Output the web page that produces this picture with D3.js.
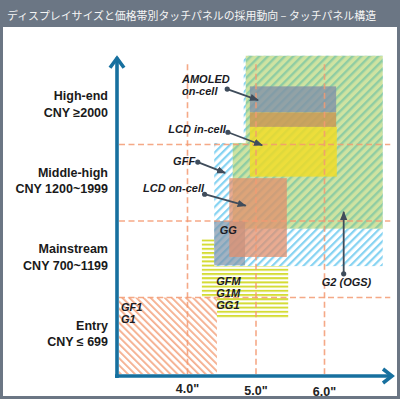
<!DOCTYPE html>
<html>
<head>
<meta charset="utf-8">
<script src="https://cdn.jsdelivr.net/npm/d3@7"></script>
<style>
  html, body { margin: 0; padding: 0; background: #fff; }
  svg { display: block; }
</style>
</head>
<body>
<div id="chart"></div>
<script>
// x: display size (inch), y: price tier (0 = bottom of Entry)
const sizeTicks = [4.0, 5.0, 6.0];
const sizeLabels = ['4.0"', '5.0"', '6.0"'];
const tierBounds = [1, 2, 3];
const tierNames = ['Entry', 'Mainstream', 'Middle-high', 'High-end'];
const tierPrices = ['CNY \u2264 699', 'CNY 700~1199', 'CNY 1200~1999', 'CNY \u22652000'];

// one entry per rectangle (GFF and G2 are L-shaped -> two rects each)
const panelTypes = ['GFM', 'GFF', 'GFF', 'G2', 'G2', 'GG', 'LCD on-cell', 'AMOLED on-cell', 'overlap', 'LCD in-cell', 'GF1'];
const sizeFrom = [4.21, 4.39, 4.82, 4.66, 4.85, 4.39, 4.61, 4.91, 4.91, 4.91, 3.00];
const sizeTo   = [5.47, 6.85, 6.85, 6.85, 6.85, 4.84, 5.45, 6.17, 6.17, 6.18, 4.43];
const tierFrom = [0.73, 1.41, 3.02, 1.90, 3.02, 1.42, 1.53, 3.42, 3.23, 2.58, 0.00];
const tierTo   = [1.76, 3.02, 4.16, 3.02, 4.16, 2.00, 2.56, 3.76, 3.42, 3.23, 1.00];

// callout labels (text anchor, optional leader line from -> to)
const callouts = [
  { lines: ['AMOLED', 'on-cell'], tx: 3.92, ty: 3.86, from: [4.58, 3.725], to: [5.03, 3.58] },
  { lines: ['LCD in-cell'], tx: 3.72, ty: 3.20, from: [4.59, 3.16], to: [5.09, 2.99] },
  { lines: ['GFF'], tx: 3.79, ty: 2.78, from: [4.15, 2.77], to: [4.55, 2.63] },
  { lines: ['LCD on-cell'], tx: 3.35, ty: 2.43, from: [4.25, 2.35], to: [4.85, 2.20] },
  { lines: ['GG'], tx: 4.47, ty: 1.88 },
  { lines: ['G2 (OGS)'], tx: 5.96, ty: 1.20, from: [6.28, 1.31], to: [6.28, 2.12] },
  { lines: ['GFM', 'G1M', 'GG1'], tx: 4.42, ty: 1.22 },
  { lines: ['GF1', 'G1'], tx: 3.03, ty: 0.88 }
];

const W = 400, H = 399;
const svg = d3.select('#chart').append('svg')
  .attr('width', W)
  .attr('height', H);

const x = d3.scaleLinear().domain([3, 7]).range([119, 393]);
const y = d3.scaleLinear().domain([0, 4]).range([374, 68]);

// frame + title bar
svg.append('rect').attr('width', W).attr('height', H).attr('fill', '#6b7684');
svg.append('rect').attr('x', 3).attr('y', 27).attr('width', W - 6).attr('height', H - 30).attr('fill', '#fff');
svg.append('text')
  .attr('x', 7).attr('y', 14.5)
  .attr('dominant-baseline', 'central')
  .style('font-family', '"Noto Sans CJK JP", sans-serif')
  .style('font-size', '10.9px')
  .style('fill', '#f5f5f5')
  .text('ディスプレイサイズと価格帯別タッチパネルの採用動向 \u2013 タッチパネル構造');

// patterns
const defs = svg.append('defs');

function hatch(id, bg, line, size, lineW, angle) {
  const p = defs.append('pattern')
    .attr('id', id)
    .attr('patternUnits', 'userSpaceOnUse')
    .attr('width', size).attr('height', size)
    .attr('patternTransform', 'rotate(' + angle + ')');
  if (bg) p.append('rect').attr('width', size).attr('height', size).attr('fill', bg);
  p.append('rect').attr('width', lineW).attr('height', size).attr('fill', line);
}
hatch('hGreen', '#cfe3a1', '#8fcda3', 6, 2.4, 45);
hatch('hBlue', '#ffffff', '#86d3f2', 5.5, 2.2, 45);
hatch('hOrange', '#ffffff', '#f5ad8c', 5, 1.8, -45);

const stripe = defs.append('pattern')
  .attr('id', 'hYellow')
  .attr('patternUnits', 'userSpaceOnUse')
  .attr('width', 8).attr('height', 4.2);
stripe.append('rect').attr('width', 8).attr('height', 4.2).attr('fill', '#fff');
stripe.append('rect').attr('width', 8).attr('height', 2).attr('fill', '#d5dc35');

const panelStyle = {
  'GFM': { fill: 'url(#hYellow)', opacity: 1 },
  'GFF': { fill: 'url(#hBlue)', opacity: 1 },
  'G2': { fill: 'url(#hGreen)', opacity: 1 },
  'GG': { fill: '#7f96ab', opacity: 0.72 },
  'LCD on-cell': { fill: '#e28f6c', opacity: 0.75 },
  'AMOLED on-cell': { fill: '#8090a8', opacity: 0.78 },
  'overlap': { fill: '#c99c58', opacity: 0.9 },
  'LCD in-cell': { fill: '#f2dc22', opacity: 0.8 },
  'GF1': { fill: 'url(#hOrange)', opacity: 1 }
};

const rects = panelTypes.map((t, i) => ({
  type: t, s0: sizeFrom[i], s1: sizeTo[i], t0: tierFrom[i], t1: tierTo[i]
}));

svg.append('g').selectAll('rect')
  .data(rects)
  .enter().append('rect')
  .attr('x', d => x(d.s0))
  .attr('y', d => y(d.t1))
  .attr('width', d => x(d.s1) - x(d.s0))
  .attr('height', d => y(d.t0) - y(d.t1))
  .attr('fill', d => panelStyle[d.type].fill)
  .attr('fill-opacity', d => panelStyle[d.type].opacity);

// dashed grid
const grid = svg.append('g')
  .attr('stroke', '#f39a72')
  .attr('stroke-width', 1.6)
  .attr('stroke-dasharray', '6,3.5')
  .attr('stroke-opacity', 0.85);

grid.selectAll('.vg')
  .data(sizeTicks)
  .enter().append('line')
  .attr('x1', d => x(d)).attr('x2', d => x(d))
  .attr('y1', y(4.05)).attr('y2', y(0));

grid.selectAll('.hg')
  .data(tierBounds)
  .enter().append('line')
  .attr('x1', x(3)).attr('x2', x(6.96))
  .attr('y1', d => y(d)).attr('y2', d => y(d));

// axes
const axisColor = '#17709f';
const ax0 = x(3) - 2, ay0 = y(0) + 2;
const axes = svg.append('g')
  .attr('stroke', axisColor)
  .attr('fill', 'none')
  .attr('stroke-width', 3.6);
axes.append('line').attr('x1', ax0).attr('x2', ax0).attr('y1', ay0 + 2).attr('y2', y(4.16) + 2);
axes.append('line').attr('x1', ax0 - 2).attr('x2', x(7) - 2).attr('y1', ay0).attr('y2', ay0);
axes.append('path')
  .attr('stroke-linejoin', 'miter')
  .attr('d', 'M' + (ax0 - 7) + ',' + (y(4.16) + 12) + 'L' + ax0 + ',' + (y(4.16) + 2.5) + 'L' + (ax0 + 7) + ',' + (y(4.16) + 12));
axes.append('path')
  .attr('stroke-linejoin', 'miter')
  .attr('d', 'M' + (x(7) - 10) + ',' + (ay0 - 7) + 'L' + (x(7) - 1) + ',' + ay0 + 'L' + (x(7) - 10) + ',' + (ay0 + 7));

// x tick labels
svg.append('g').selectAll('text')
  .data(sizeTicks)
  .enter().append('text')
  .attr('x', d => x(d))
  .attr('y', (d, i) => 389 + i * 1.5)
  .attr('text-anchor', 'middle')
  .attr('dominant-baseline', 'central')
  .style('font-family', '"Liberation Sans", Arial, sans-serif')
  .style('font-weight', 'bold')
  .style('font-size', '12.5px')
  .style('fill', '#222')
  .text((d, i) => sizeLabels[i]);

// tier labels
const tierG = svg.append('g').selectAll('g')
  .data(tierNames)
  .enter().append('g')
  .attr('transform', (d, i) => 'translate(108,' + (y(i + 0.5) - 2) + ')')
  .style('font-family', '"Liberation Sans", Arial, sans-serif')
  .style('font-weight', 'bold')
  .style('font-size', '12.5px')
  .style('fill', '#1a1a1a')
  .attr('text-anchor', 'end');
tierG.append('text').attr('y', -8).attr('dominant-baseline', 'central').text(d => d);
tierG.append('text').attr('y', 8.5).attr('dominant-baseline', 'central').text((d, i) => tierPrices[i]);

// callouts
defs.append('marker')
  .attr('id', 'tip')
  .attr('markerUnits', 'userSpaceOnUse')
  .attr('viewBox', '0 -5 10 10')
  .attr('refX', 9).attr('refY', 0)
  .attr('markerWidth', 9).attr('markerHeight', 9)
  .attr('orient', 'auto')
  .append('path')
  .attr('d', 'M0,-4L10,0L0,4Z')
  .attr('fill', '#3f4c5b');

const leaders = callouts.filter(c => c.from);
svg.append('g').selectAll('line')
  .data(leaders)
  .enter().append('line')
  .attr('x1', d => x(d.from[0])).attr('y1', d => y(d.from[1]))
  .attr('x2', d => x(d.to[0])).attr('y2', d => y(d.to[1]))
  .attr('stroke', '#3f4c5b')
  .attr('stroke-width', 1.8)
  .attr('marker-end', 'url(#tip)');
svg.append('g').selectAll('circle')
  .data(leaders)
  .enter().append('circle')
  .attr('cx', d => x(d.from[0])).attr('cy', d => y(d.from[1]))
  .attr('r', 2.6)
  .attr('fill', '#3f4c5b');

const labelG = svg.append('g')
  .style('font-family', '"Liberation Sans", Arial, sans-serif')
  .style('font-weight', 'bold')
  .style('font-style', 'italic')
  .style('font-size', '11px')
  .style('fill', '#1b1b24');
callouts.forEach(c => {
  c.lines.forEach((ln, k) => {
    labelG.append('text')
      .attr('x', x(c.tx))
      .attr('y', y(c.ty) + k * 12)
      .attr('dominant-baseline', 'central')
      .text(ln);
  });
});
</script>
</body>
</html>
